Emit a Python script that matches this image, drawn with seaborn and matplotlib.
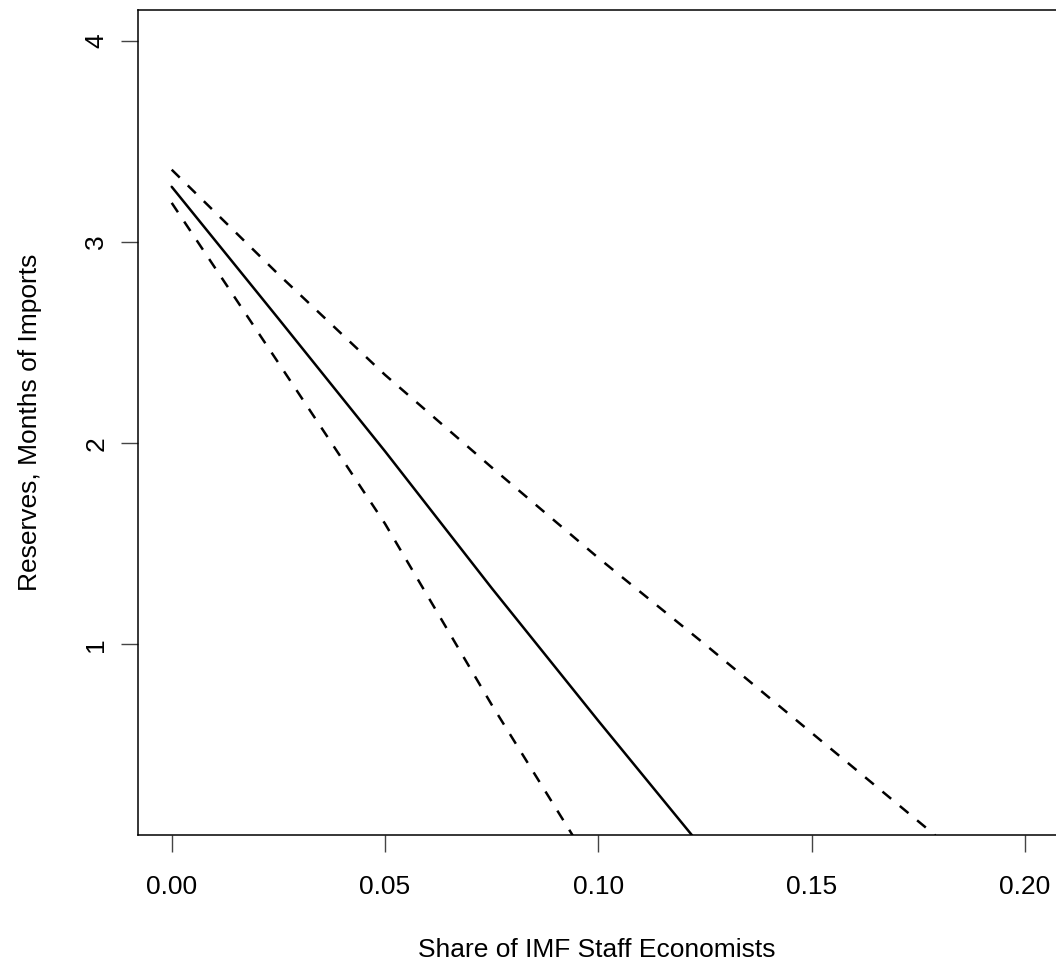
import matplotlib
matplotlib.use("Agg")
import matplotlib.pyplot as plt
import seaborn as sns

# данные
share_mid = [0.0, 0.025, 0.05, 0.075, 0.10, 0.122]
reserves_mid = [3.275, 2.62, 1.96, 1.28, 0.62, 0.05]

share_low = [0.0, 0.025, 0.05, 0.075, 0.094]
reserves_low = [3.195, 2.40, 1.60, 0.70, 0.05]

share_high = [0.0, 0.025, 0.05, 0.075, 0.10, 0.125, 0.15, 0.179]
reserves_high = [3.36, 2.84, 2.34, 1.88, 1.43, 1.0, 0.56, 0.05]

x_ticks = [0.0, 0.05, 0.10, 0.15, 0.20]
x_tick_labels = ["0.00", "0.05", "0.10", "0.15", "0.20"]
y_ticks = [1, 2, 3, 4]

sns.set_theme(style="white")
plt.rcParams["font.family"] = ["Liberation Sans", "DejaVu Sans"]

W, H = 1056, 972
fig = plt.figure(figsize=(W / 100, H / 100), dpi=100)
left, right, top, bottom = 138.3, 1059, 10, 835
ax = fig.add_axes([left / W, (H - bottom) / H, (right - left) / W, (bottom - top) / H])

# центральная оценка и доверительные границы
sns.lineplot(x=share_mid, y=reserves_mid, color="black", linewidth=1.8, ax=ax)
sns.lineplot(x=share_low, y=reserves_low, color="black", linewidth=1.8,
             linestyle=(0, (4.5, 4.5)), ax=ax)
sns.lineplot(x=share_high, y=reserves_high, color="black", linewidth=1.8,
             linestyle=(0, (4.5, 4.5)), ax=ax)

ax.set_xlim(-0.00783, 0.208)
ax.set_ylim(0.052, 4.154)

ax.set_xticks(x_ticks)
ax.set_xticklabels(x_tick_labels)
ax.set_yticks(y_ticks)
ax.set_yticklabels([str(v) for v in y_ticks], rotation=90, va="center")

for s in ax.spines.values():
    s.set_color("black")
    s.set_linewidth(1.1)

ax.tick_params(axis="both", which="major", length=12.2, width=1.0, color="#444444",
               labelsize=19, labelcolor="black", direction="out")
ax.tick_params(axis="x", pad=16.5)
ax.tick_params(axis="y", pad=9.5)
ax.tick_params(bottom=True, left=True)

ax.set_xlabel("Share of IMF Staff Economists", fontsize=19, color="black")
ax.set_ylabel("Reserves, Months of Imports", fontsize=19, color="black")
ax.xaxis.label.set_va("center")
ax.yaxis.label.set_va("center")
ax.xaxis.set_label_coords((597 - left) / (right - left), (bottom - 950) / (bottom - top))
ax.yaxis.set_label_coords((30 - left) / (right - left), 0.5)

fig.savefig("out.png", dpi=100)
